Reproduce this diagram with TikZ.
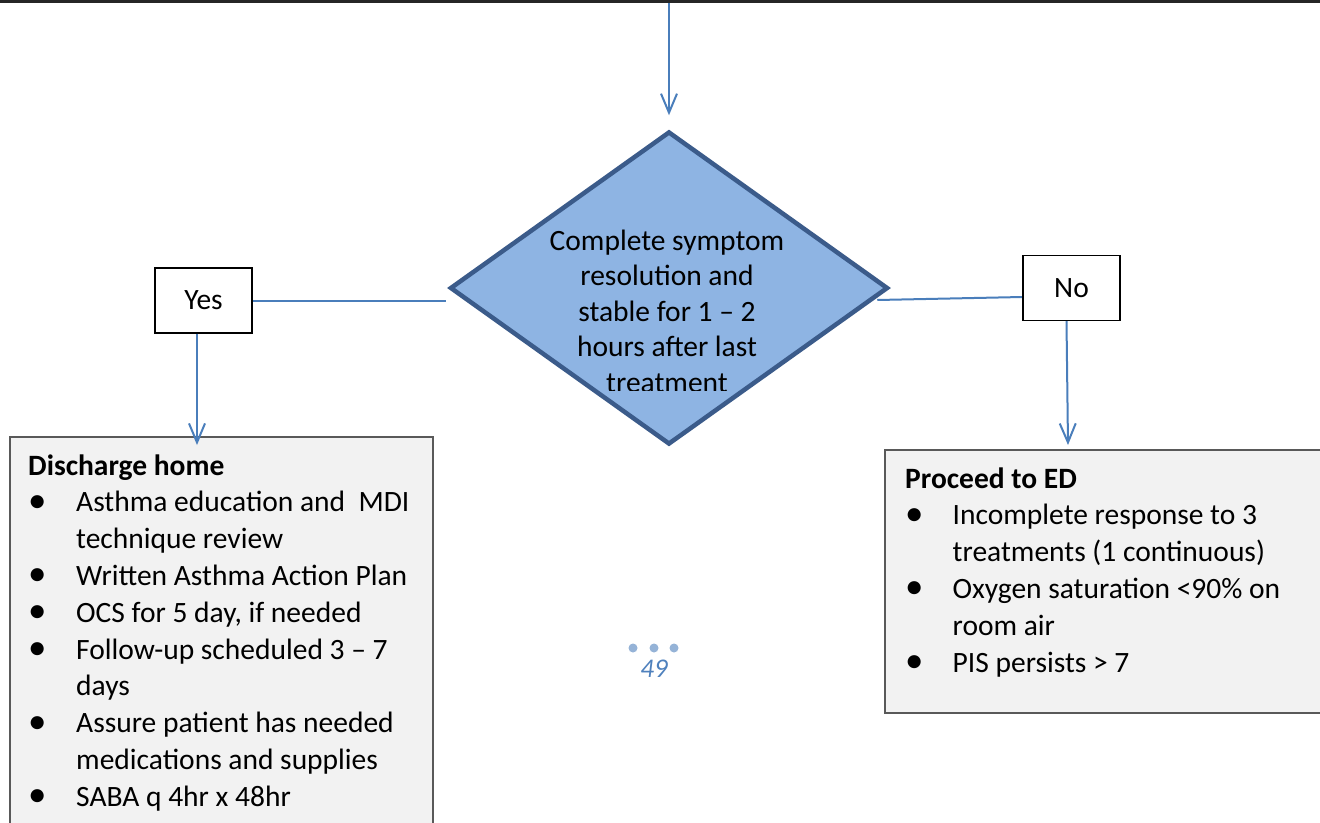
\documentclass[tikz,border=0pt]{standalone}
\usepackage{fontspec}
\setmainfont{Carlito}
\usetikzlibrary{shapes.geometric,arrows.meta,calc,backgrounds}
\definecolor{connblue}{HTML}{4A7EBB}
\definecolor{diafill}{HTML}{8EB4E3}
\definecolor{diaedge}{HTML}{3B5B8A}
\definecolor{boxfill}{HTML}{F2F2F2}
\definecolor{boxedge}{HTML}{595959}
\definecolor{pagedot}{HTML}{95B3D7}
\definecolor{pagenum}{HTML}{4F81BD}
\newcommand\bodyfont{\fontsize{29.5pt}{36.8pt}\selectfont}
\newcommand\diafont{\fontsize{29.5pt}{35.5pt}\selectfont}
% list bullet
\newcommand\bul{\raisebox{-0.5pt}{\scalebox{1.25}{\textbullet}}}

\begin{document}
\begin{tikzpicture}[x=1pt,y=-1pt,
  conn/.style={draw=connblue,line width=2pt},
  arrowconn/.style={conn,-{Straight Barb[length=19pt,width=16pt]}},
  decision/.style={diamond,draw=diaedge,fill=diafill,line width=4.5pt,
    minimum width=438pt,minimum height=313pt,inner sep=0pt},
  answer/.style={draw=black,line width=1.3pt,fill=white,minimum width=97pt,
    minimum height=65pt,inner sep=0pt,font=\bodyfont},
  listbox/.style={draw=boxedge,fill=boxfill,line width=2pt,inner sep=0pt,
    anchor=north west},
  listtext/.style={anchor=base west,inner sep=0pt,font=\bodyfont},
  dot/.style={circle,fill=pagedot,inner sep=0pt,minimum size=9pt}]

\clip (0,0) rectangle (1320,822);

% rule at the top of the page
\fill[black!85] (0,0) rectangle (1320,3);
\coordinate (src) at (669,3);

% decision
\node[decision] (dia) at (669,288) {};
\begin{scope}
  \clip (440,120) rectangle (900,390);
  \node[anchor=base,inner sep=0pt,font=\diafont] (diatext) at (667,250)
    {\begin{tabular}[t]{@{}c@{}}Complete symptom\\resolution and\\stable for 1 – 2\\hours after last\\treatment\end{tabular}};
\end{scope}

% answers
\node[answer] (yes) at (203.5,300.5) {Yes};
\node[answer] (no) at (1071.5,288) {No};

% outcome boxes
\node[listbox,minimum width=423pt,minimum height=400pt] (dbox) at (9,436) {};
\node[listbox,minimum width=450pt,minimum height=263pt] (pbox) at (884,449) {};

\node[listtext] (dlist) at (28,475) {%
  \begin{tabular}[t]{@{}p{48pt}@{}l@{}}
  \multicolumn{2}{@{}l@{}}{\textbf{Discharge home}}\\
  \bul & Asthma education and \ MDI\\
   & technique review\\
  \bul & Written Asthma Action Plan\\
  \bul & OCS for 5 day, if needed\\
  \bul & Follow-up scheduled 3 – 7\\
   & days\\
  \bul & Assure patient has needed\\
   & medications and supplies\\
  \bul & SABA q 4hr x 48hr
  \end{tabular}};

\node[listtext] (plist) at (905,488) {%
  \begin{tabular}[t]{@{}p{47.5pt}@{}l@{}}
  \multicolumn{2}{@{}l@{}}{\textbf{Proceed to ED}}\\
  \bul & Incomplete response to 3\\
   & treatments (1 continuous)\\
  \bul & Oxygen saturation <90\% on\\
   & room air\\
  \bul & PIS persists > 7
  \end{tabular}};

% connectors
\begin{pgfonlayer}{background}
  \draw[conn] (yes.east |- 0,301) -- ($(dia.west)+(-2,13)$);
  \draw[conn] ($(dia.east)+(-13,12)$) -- ($(no.west)+(0,9)$);
\end{pgfonlayer}
\draw[arrowconn] (src) -- ($(dia.north)+(0,-14)$);
\draw[arrowconn] ($(yes.south)+(-6.5,0)$) -- ($(dbox.north west)+(188,9)$);
\draw[arrowconn] ($(no.south)+(-5,0)$) -- ($(pbox.north west)+(184,-4)$);

% page number
\node[dot] (d1) at (633,648) {};
\node[dot] (d2) at (654,648) {};
\node[dot] (d3) at (674,648) {};
\node[inner sep=0pt,text=pagenum,font=\fontsize{27pt}{30pt}\selectfont\itshape] (pg) at (654,669) {49};
\end{tikzpicture}
\end{document}
